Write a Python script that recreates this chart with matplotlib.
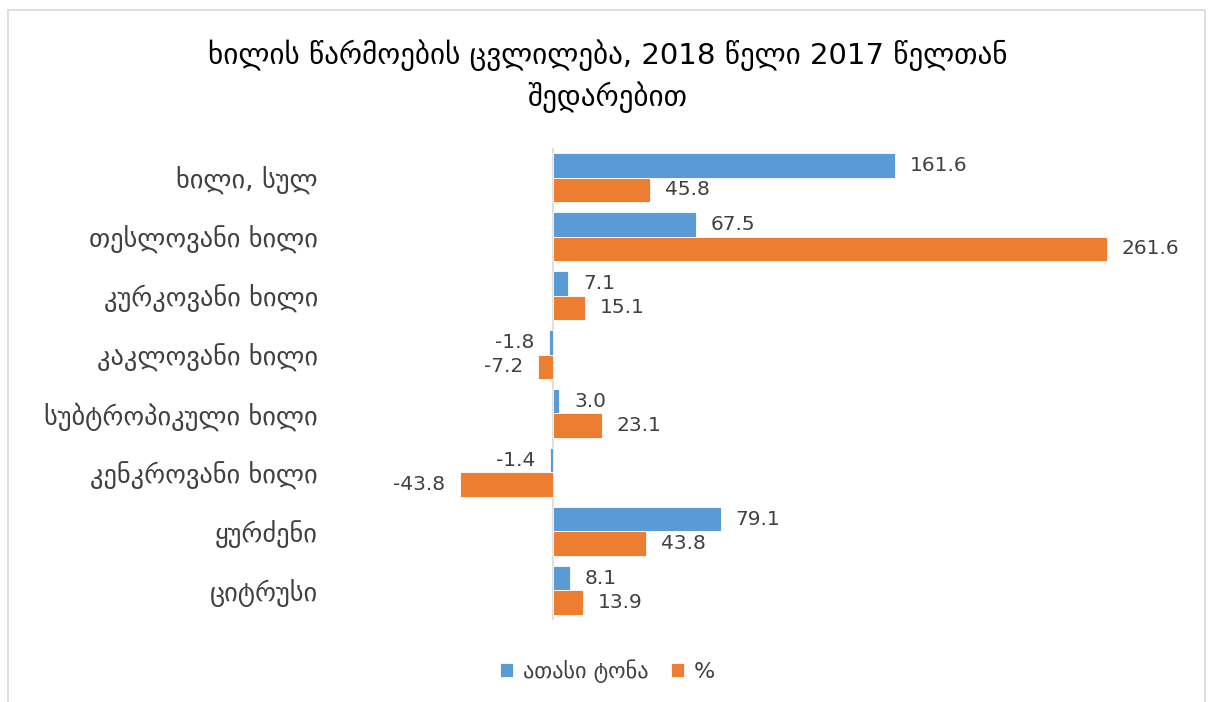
import matplotlib
matplotlib.use("Agg")
import matplotlib.pyplot as plt
import numpy as np
from matplotlib.patches import Rectangle

kategoriebi = [
    "ხილი, სულ",
    "თესლოვანი ხილი",
    "კურკოვანი ხილი",
    "კაკლოვანი ხილი",
    "სუბტროპიკული ხილი",
    "კენკროვანი ხილი",
    "ყურძენი",
    "ციტრუსი",
]
atasi_tona = [161.6, 67.5, 7.1, -1.8, 3.0, -1.4, 79.1, 8.1]
procenti = [45.8, 261.6, 15.1, -7.2, 23.1, -43.8, 43.8, 13.9]

seriebi = ["ათასი ტონა", "%"]
LURJI = "#5B9BD5"
NARINJI = "#ED7D31"
TEXT = "#404040"

fig = plt.figure(figsize=(12.15, 7.02), dpi=100)
fig.patches.append(Rectangle((8 / 1215, -0.05), (1205 - 8) / 1215, 1 - 10 / 702 + 0.05,
                             transform=fig.transFigure, fill=False,
                             edgecolor="#D9D9D9", linewidth=1.2))

ax = fig.add_axes([0.281, 0.117, 0.697, 0.672])
y = np.arange(len(kategoriebi))
h = 0.41

b1 = ax.barh(y - h / 2, atasi_tona, height=h, color=LURJI, edgecolor="white", linewidth=0.6,
             label=seriebi[0])
b2 = ax.barh(y + h / 2, procenti, height=h, color=NARINJI, edgecolor="white", linewidth=0.6,
             label=seriebi[1])

for bars, vals in [(b1, atasi_tona), (b2, procenti)]:
    for bar, v in zip(bars, vals):
        yc = bar.get_y() + bar.get_height() / 2
        if v >= 0:
            ax.text(v + 7, yc, f"{v:.1f}", ha="left", va="center", fontsize=14.5, color=TEXT)
        else:
            ax.text(v - 7, yc, f"{v:.1f}", ha="right", va="center", fontsize=14.5, color=TEXT)

ax.set_xlim(-100, 300)
ax.set_ylim(len(kategoriebi) - 0.5, -0.5)
ax.axvline(0, color="#D9D9D9", linewidth=1.2, zorder=0)
ax.set_xticks([])
ax.set_yticks(y)
ax.set_yticklabels(kategoriebi, fontsize=19, color=TEXT)
ax.tick_params(axis="y", length=0, pad=17)
for s in ax.spines.values():
    s.set_visible(False)

fig.text(0.5, 1 - 55 / 702, "ხილის წარმოების ცვლილება, 2018 წელი 2017 წელთან",
         ha="center", va="center", fontsize=21, color="black")
fig.text(0.5, 1 - 97 / 702, "შედარებით",
         ha="center", va="center", fontsize=21, color="black")

fig.legend(handles=[b1, b2], labels=seriebi, loc="center", bbox_to_anchor=(0.5, 1 - 671 / 702),
           ncol=2, frameon=False, fontsize=16, handlelength=0.6, handleheight=0.6,
           handletextpad=0.45, columnspacing=1.0, labelcolor=TEXT)

fig.savefig("out.png", dpi=100)
